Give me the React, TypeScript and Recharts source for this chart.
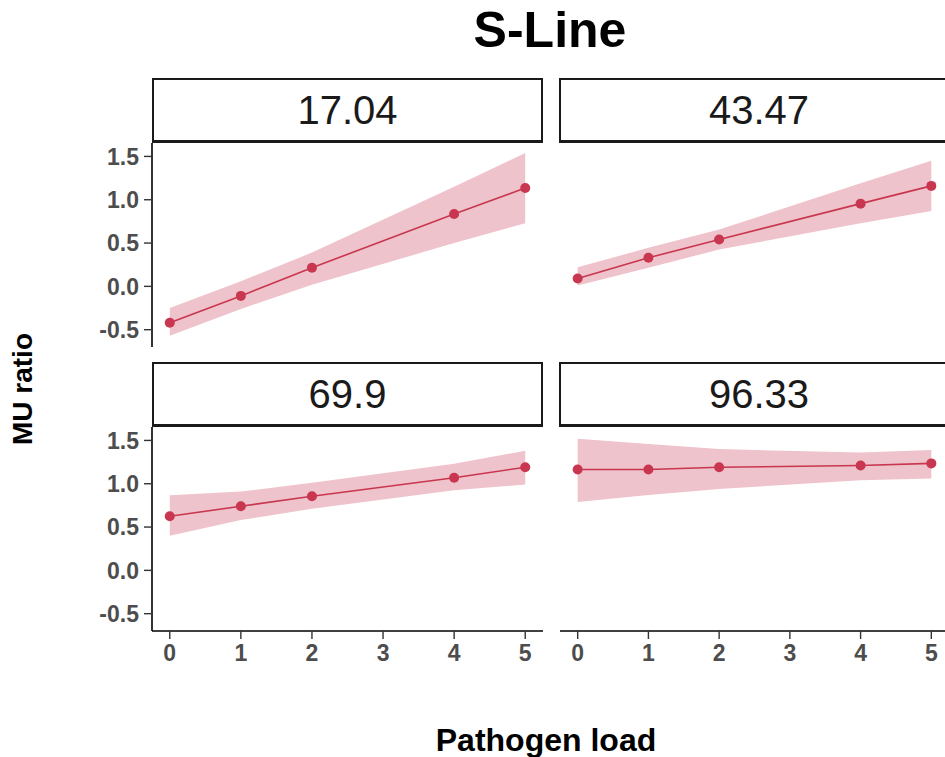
import React from "react";
import { ComposedChart, Area, Line, XAxis, YAxis } from "recharts";

// pathogen load levels that were measured (no 3)
const loads = [0, 1, 2, 4, 5];
const xTicks = [0, 1, 2, 3, 4, 5];
const yTicks = [-0.5, 0, 0.5, 1, 1.5];
const panelLabels = ["17.04", "43.47", "69.9", "96.33"];

// fitted MU ratio and ribbon per panel
const fit1704 = [-0.42, -0.11, 0.215, 0.835, 1.135];
const low1704 = [-0.57, -0.26, 0.02, 0.5, 0.73];
const high1704 = [-0.25, 0.06, 0.39, 1.15, 1.54];

const fit4347 = [0.09, 0.33, 0.54, 0.955, 1.16];
const low4347 = [0.01, 0.215, 0.425, 0.73, 0.87];
const high4347 = [0.22, 0.445, 0.655, 1.19, 1.45];

const fit699 = [0.624, 0.74, 0.855, 1.07, 1.19];
const low699 = [0.4, 0.58, 0.71, 0.925, 0.99];
const high699 = [0.867, 0.91, 1.01, 1.23, 1.38];

const fit9633 = [1.164, 1.164, 1.19, 1.21, 1.235];
const low9633 = [0.79, 0.87, 0.94, 1.04, 1.06];
const high9633 = [1.52, 1.46, 1.4, 1.36, 1.39];

const RED = "#C8374F";
const RIBBON = "#EFC3CB";
const FONT = "'Liberation Sans', Arial, sans-serif";

const build = (fit: number[], low: number[], high: number[]) =>
  loads.map((x, i) => ({ x, y: fit[i], range: [low[i], high[i]] }));

const panels = [
  build(fit1704, low1704, high1704),
  build(fit4347, low4347, high4347),
  build(fit699, low699, high699),
  build(fit9633, low9633, high9633),
];

const colLeft = [152, 560];
const colWidth = [391, 389];
const rowTop = [143, 427];
const PLOT_H = 204;
const Y_W = 70;
const X_H = 48;

const tickStyle = { fill: "#4D4D4D", fontSize: 23, fontWeight: 700, fontFamily: FONT };

function Panel({ idx }: { idx: number }) {
  const col = idx % 2;
  const row = Math.floor(idx / 2);
  const showY = col === 0;
  const showX = row === 1;
  const width = colWidth[col] + (showY ? Y_W : 0);
  const height = PLOT_H + (showX ? X_H : 0);
  return (
    <div style={{ position: "absolute", left: colLeft[col] - (showY ? Y_W : 0), top: rowTop[row] }}>
      <ComposedChart width={width} height={height} data={panels[idx]} margin={{ top: 0, right: 0, bottom: 0, left: 0 }}>
        <XAxis
          dataKey="x"
          type="number"
          domain={[-0.25, 5.25]}
          ticks={xTicks}
          allowDataOverflow
          hide={!showX}
          height={X_H}
          fontSize={23}
          tick={tickStyle}
          tickSize={8}
          tickMargin={6}
          axisLine={{ stroke: "#000", strokeWidth: 1.6 }}
          tickLine={{ stroke: "#333", strokeWidth: 1.4 }}
        />
        <YAxis
          type="number"
          domain={[-0.7, 1.655]}
          ticks={yTicks}
          allowDataOverflow
          hide={!showY}
          width={Y_W}
          fontSize={23}
          tick={tickStyle}
          tickFormatter={(v: number) => v.toFixed(1)}
          tickSize={8}
          tickMargin={5}
          axisLine={{ stroke: "#000", strokeWidth: 1.6 }}
          tickLine={{ stroke: "#333", strokeWidth: 1.4 }}
        />
        <Area
          type="linear"
          dataKey="range"
          fill={RIBBON}
          fillOpacity={1}
          stroke="none"
          isAnimationActive={false}
        />
        <Line
          type="linear"
          dataKey="y"
          stroke={RED}
          strokeWidth={1.6}
          dot={{ r: 5, fill: RED, stroke: RED, strokeWidth: 0 }}
          isAnimationActive={false}
        />
      </ComposedChart>
    </div>
  );
}

function Strip({ idx }: { idx: number }) {
  const col = idx % 2;
  const row = Math.floor(idx / 2);
  const left = col === 0 ? 152 : 559;
  const w = col === 0 ? 391 : 400;
  return (
    <div
      style={{
        position: "absolute",
        left,
        top: rowTop[row] - 65,
        width: w,
        height: 65,
        boxSizing: "border-box",
        border: "2px solid #1a1a1a",
        borderBottomWidth: 3,
        background: "#fff",
        display: "flex",
        alignItems: "center",
        justifyContent: "center",
        fontFamily: FONT,
        fontSize: 40,
        color: "#1a1a1a",
      }}
    >
      {panelLabels[idx]}
    </div>
  );
}

export default function App() {
  return (
    <div
      style={{
        position: "absolute",
        left: 0,
        top: 0,
        width: 945,
        height: 757,
        overflow: "hidden",
        background: "#fff",
        fontFamily: FONT,
      }}
    >
      <div
        style={{
          position: "absolute",
          left: 550,
          top: 1,
          transform: "translateX(-50%)",
          whiteSpace: "nowrap",
          fontSize: 50,
          fontWeight: 700,
          color: "#000",
        }}
      >
        S-Line
      </div>
      {[0, 1, 2, 3].map(i => (
        <Strip key={"s" + i} idx={i} />
      ))}
      {[0, 1, 2, 3].map(i => (
        <Panel key={"p" + i} idx={i} />
      ))}
      <div
        style={{
          position: "absolute",
          left: 23,
          top: 389,
          transform: "translate(-50%, -50%) rotate(-90deg)",
          whiteSpace: "nowrap",
          fontSize: 28,
          fontWeight: 700,
          color: "#000",
        }}
      >
        MU ratio
      </div>
      <div
        style={{
          position: "absolute",
          left: 546,
          top: 722,
          transform: "translateX(-50%)",
          whiteSpace: "nowrap",
          fontSize: 32,
          fontWeight: 700,
          color: "#000",
        }}
      >
        Pathogen load
      </div>
    </div>
  );
}
